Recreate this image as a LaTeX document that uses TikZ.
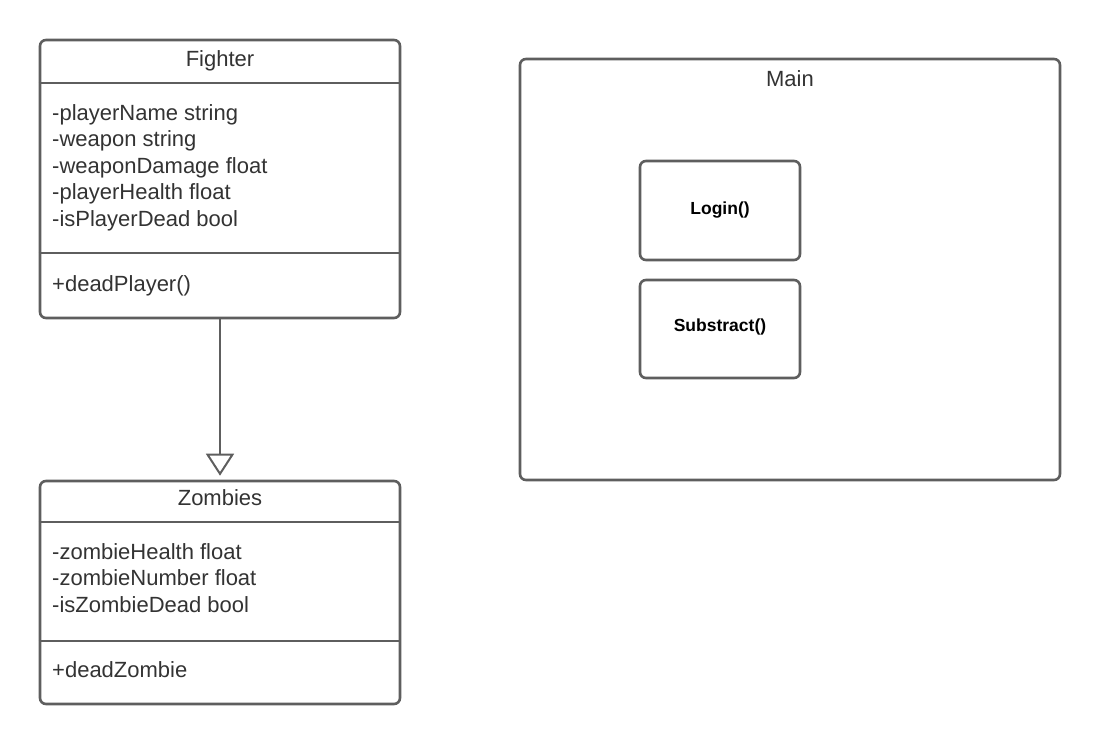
\documentclass[tikz,border=0pt]{standalone}
\usepackage{fontspec}
\setmainfont{Liberation Sans}
\usetikzlibrary{arrows.meta}
\definecolor{linec}{HTML}{5E5E5E}
\definecolor{textc}{HTML}{333333}
\newcommand\regfont{\fontsize{22}{26.4}\selectfont}
\newcommand\boldfont{\fontsize{17.5}{21}\selectfont\bfseries}
\tikzset{
  umlbox/.style={draw=linec, line width=2.6pt, rounded corners=6pt, inner sep=0pt, fill=white},
  divline/.style={draw=linec, line width=2.6pt},
  reglabel/.style={font=\regfont, text=textc, inner sep=0pt},
  boldlabel/.style={font=\boldfont, text=black, inner sep=0pt},
  inherit/.style={draw=linec, line width=2pt, -{Triangle[open, width=28pt, length=22pt, line width=2pt]}}
}
\begin{document}
\begin{tikzpicture}[x=1pt,y=-1pt]
\useasboundingbox (0,0) rectangle (1100,744);
% Fighter
\node[umlbox, minimum width=360pt, minimum height=278pt] (fighter) at (220,179) {};
\coordinate (fd1) at (0,83);
\coordinate (fd2) at (0,253);
\draw[divline] (fighter.west |- fd1) -- (fighter.east |- fd1);
\draw[divline] (fighter.west |- fd2) -- (fighter.east |- fd2);
\node[reglabel, anchor=base] (ftitle) at (220,66) {Fighter};
\node[reglabel, anchor=base west] (fa1) at (52,120) {-playerName string};
\node[reglabel, anchor=base west] (fa2) at (52,146.5) {-weapon string};
\node[reglabel, anchor=base west] (fa3) at (52,173) {-weaponDamage float};
\node[reglabel, anchor=base west] (fa4) at (52,199.5) {-playerHealth float};
\node[reglabel, anchor=base west] (fa5) at (52,226) {-isPlayerDead bool};
\node[reglabel, anchor=base west] (fm1) at (52,291) {+deadPlayer()};
% Zombies
\node[umlbox, minimum width=360pt, minimum height=223pt] (zombies) at (220,592.5) {};
\coordinate (zd1) at (0,522);
\coordinate (zd2) at (0,641);
\draw[divline] (zombies.west |- zd1) -- (zombies.east |- zd1);
\draw[divline] (zombies.west |- zd2) -- (zombies.east |- zd2);
\node[reglabel, anchor=base] (ztitle) at (220,505) {Zombies};
\node[reglabel, anchor=base west] (za1) at (52,559) {-zombieHealth float};
\node[reglabel, anchor=base west] (za2) at (52,585.5) {-zombieNumber float};
\node[reglabel, anchor=base west] (za3) at (52,612) {-isZombieDead bool};
\node[reglabel, anchor=base west] (zm1) at (52,677) {+deadZombie};
% Inheritance
\draw[inherit, shorten >=4pt] (fighter.south) -- (zombies.north);
% Main
\node[umlbox, minimum width=540pt, minimum height=421pt] (main) at (790,269.5) {};
\node[reglabel, anchor=base] (mtitle) at (790,86) {Main};
\node[umlbox, minimum width=160pt, minimum height=99pt] (login) at (720,210.5) {};
\node[boldlabel] (logintxt) at (720,210) {Login()};
\node[umlbox, minimum width=160pt, minimum height=98pt] (subst) at (720,329) {};
\node[boldlabel] (substtxt) at (720,327) {Substract()};
\end{tikzpicture}
\end{document}
